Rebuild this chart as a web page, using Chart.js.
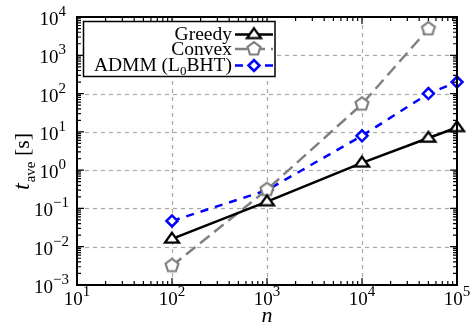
<!DOCTYPE html>
<html>
<head>
<meta charset="utf-8">
<script src="https://cdn.jsdelivr.net/npm/chart.js@4.4.0/dist/chart.umd.min.js"></script>
<style>
  html, body { margin: 0; padding: 0; background: #fff; }
  #wrap { width: 472px; height: 329px; }
</style>
</head>
<body>
<div id="wrap"><canvas id="timeChart" width="472" height="329"></canvas></div>
<script>
// problem size n
var nValues = [1e2, 1e3, 1e4, 5e4, 1e5];
var nConvex = [1e2, 1e3, 1e4, 5e4];
// average run time t_ave [s]
var greedyTimes = [0.016, 0.15, 1.55, 6.9, 13];
var convexTimes = [0.0032, 0.31, 53, 4900];
var admmTimes = [0.047, 0.3, 7.9, 100, 200];
// decade exponents shown on the axes
var xExponents = [1, 2, 3, 4, 5];
var yExponents = [-3, -2, -1, 0, 1, 2, 3, 4];

var SERIF = "'Liberation Serif', 'Times New Roman', serif";

function toPoints(xs, ys) {
    return xs.map(function (x, i) { return { x: x, y: ys[i] }; });
}

// open markers drawn once into small canvases
function makeMarker(size, draw) {
    var c = document.createElement("canvas");
    c.width = size;
    c.height = size;
    var g = c.getContext("2d");
    g.translate(size / 2, size / 2);
    draw(g);
    return c;
}

var triangleMark = makeMarker(22, function (g) {
    g.beginPath();
    g.moveTo(0, -6.2);
    g.lineTo(7, 3.6);
    g.lineTo(-7, 3.6);
    g.closePath();
    g.fillStyle = "#fff";
    g.fill();
    g.lineWidth = 2.3;
    g.lineJoin = "miter";
    g.strokeStyle = "#000";
    g.stroke();
});

var pentagonMark = makeMarker(22, function (g) {
    g.beginPath();
    for (var k = 0; k < 5; k++) {
        var a = -Math.PI / 2 + k * 2 * Math.PI / 5;
        g.lineTo(Math.cos(a) * 6.8, Math.sin(a) * 6.8);
    }
    g.closePath();
    g.fillStyle = "#fff";
    g.fill();
    g.lineWidth = 2.2;
    g.strokeStyle = "#808080";
    g.stroke();
});

function drawPower(ctx, exp, x, baseY, align) {
    var sup = exp < 0 ? "\u2212" + (-exp) : String(exp);
    ctx.font = "19px " + SERIF;
    var wb = ctx.measureText("10").width;
    ctx.font = "15px " + SERIF;
    var ws = ctx.measureText(sup).width;
    var x0 = align === "center" ? x - (wb + ws) / 2 : x - wb;
    ctx.textAlign = "left";
    ctx.textBaseline = "alphabetic";
    ctx.fillStyle = "#000";
    ctx.font = "19px " + SERIF;
    ctx.fillText("10", x0, baseY);
    ctx.font = "15px " + SERIF;
    ctx.fillText(sup, x0 + wb, baseY - 9);
}

var axesPlugin = {
    id: "gnuAxes",
    beforeDatasetsDraw: function (chart) {
        var ctx = chart.ctx, a = chart.chartArea;
        var xs = chart.scales.x, ys = chart.scales.y;
        ctx.save();
        ctx.strokeStyle = "#a8a8a8";
        ctx.lineWidth = 1.2;
        ctx.setLineDash([4, 4]);
        xExponents.forEach(function (e) {
            var px = Math.round(xs.getPixelForValue(Math.pow(10, e))) + 0.5;
            if (px <= a.left + 1 || px >= a.right - 1) return;
            ctx.beginPath();
            ctx.moveTo(px, a.bottom);
            ctx.lineTo(px, a.top);
            ctx.stroke();
        });
        yExponents.forEach(function (e) {
            var py = Math.round(ys.getPixelForValue(Math.pow(10, e))) + 0.5;
            if (py <= a.top + 1 || py >= a.bottom - 1) return;
            ctx.beginPath();
            ctx.moveTo(a.left, py);
            ctx.lineTo(a.right, py);
            ctx.stroke();
        });
        ctx.restore();
    },
    afterDatasetsDraw: function (chart) {
        var ctx = chart.ctx, a = chart.chartArea;
        var xs = chart.scales.x, ys = chart.scales.y;
        ctx.save();
        ctx.setLineDash([]);

        // ticks on all four sides, pointing inward
        ctx.strokeStyle = "#000";
        ctx.lineWidth = 1.2;
        ctx.beginPath();
        xExponents.forEach(function (e) {
            for (var m = 1; m <= 9; m++) {
                var v = m * Math.pow(10, e);
                if (v > xs.max * 1.0001) break;
                var px = xs.getPixelForValue(v);
                var len = m === 1 ? 7 : 4;
                ctx.moveTo(px, a.bottom); ctx.lineTo(px, a.bottom - len);
                ctx.moveTo(px, a.top); ctx.lineTo(px, a.top + len);
            }
        });
        yExponents.forEach(function (e) {
            for (var m = 1; m <= 9; m++) {
                var v = m * Math.pow(10, e);
                if (v > ys.max * 1.0001) break;
                var py = ys.getPixelForValue(v);
                var len = m === 1 ? 7 : 4;
                ctx.moveTo(a.left, py); ctx.lineTo(a.left + len, py);
                ctx.moveTo(a.right, py); ctx.lineTo(a.right - len, py);
            }
        });
        ctx.stroke();

        // frame
        ctx.lineWidth = 2;
        ctx.strokeRect(a.left, a.top, a.right - a.left, a.bottom - a.top);

        // tick labels
        xExponents.forEach(function (e) {
            drawPower(ctx, e, xs.getPixelForValue(Math.pow(10, e)), a.bottom + 20, "center");
        });
        yExponents.forEach(function (e) {
            var py = ys.getPixelForValue(Math.pow(10, e));
            var baseRight = a.left - (e < 0 ? 24 : 18.5);
            drawPower(ctx, e, baseRight, py + 8, "left");
        });

        // axis titles
        ctx.fillStyle = "#000";
        ctx.textAlign = "center";
        ctx.textBaseline = "alphabetic";
        ctx.font = "italic 22px " + SERIF;
        ctx.fillText("n", (a.left + a.right) / 2, 321.5);

        ctx.save();
        ctx.translate(29, 190);
        ctx.rotate(-Math.PI / 2);
        ctx.textAlign = "left";
        ctx.font = "italic 24px " + SERIF;
        ctx.fillText("t", 0, 0);
        var w = ctx.measureText("t").width;
        ctx.font = "15px " + SERIF;
        ctx.fillText("ave", w + 1, 6);
        w += 1 + ctx.measureText("ave").width;
        ctx.font = "22px " + SERIF;
        ctx.fillText(" [s]", w, 0);
        ctx.restore();

        // legend: right-aligned labels with a line sample on the right
        var box = { left: 83.5, top: 21.5, right: 275, bottom: 76.5 };
        ctx.fillStyle = "#fff";
        ctx.fillRect(box.left, box.top, box.right - box.left, box.bottom - box.top);
        ctx.strokeStyle = "#000";
        ctx.lineWidth = 1.5;
        ctx.strokeRect(box.left, box.top, box.right - box.left, box.bottom - box.top);

        var rows = [34.5, 49, 65.5];
        var textRight = 232;
        chart.data.datasets.forEach(function (ds, i) {
            var y = rows[i];
            ctx.save();
            ctx.strokeStyle = ds.borderColor;
            ctx.lineWidth = ds.borderWidth;
            ctx.setLineDash(ds.borderDash || []);
            ctx.beginPath();
            ctx.moveTo(235, y);
            ctx.lineTo(273, y);
            ctx.stroke();
            ctx.setLineDash([]);
            ctx.fillStyle = ds.pointBackgroundColor;
            ctx.strokeStyle = ds.pointBorderColor;
            ctx.lineWidth = ds.pointBorderWidth || 1;
            Chart.helpers.drawPoint(ctx, {
                pointStyle: ds.pointStyle,
                radius: ds.pointRadius,
                borderWidth: ds.pointBorderWidth || 1,
                rotation: 0
            }, 254, y);
            ctx.restore();

            ctx.fillStyle = "#000";
            ctx.textAlign = "right";
            ctx.font = "19.5px " + SERIF;
            var base = y + 5.8;
            if (ds.label.indexOf("_0") < 0) {
                ctx.fillText(ds.label, textRight, base);
            } else {
                var parts = ds.label.split("_0");
                ctx.fillText(parts[1], textRight, base);
                var x = textRight - ctx.measureText(parts[1]).width;
                ctx.font = "13px " + SERIF;
                ctx.fillText("0", x, base + 4);
                x -= ctx.measureText("0").width;
                ctx.font = "19.5px " + SERIF;
                ctx.fillText(parts[0], x, base);
            }
        });
        ctx.restore();
    }
};

var ctx = document.getElementById("timeChart").getContext("2d");
new Chart(ctx, {
    type: "line",
    data: {
        datasets: [{
            label: "Greedy",
            data: toPoints(nValues, greedyTimes),
            borderColor: "#000000",
            borderWidth: 2.5,
            pointStyle: triangleMark,
            pointRadius: 8,
            pointBackgroundColor: "#ffffff",
            pointBorderColor: "#000000",
            pointBorderWidth: 2,
            fill: false,
            tension: 0,
            clip: false
        }, {
            label: "Convex",
            data: toPoints(nConvex, convexTimes),
            borderColor: "#808080",
            borderWidth: 2.5,
            borderDash: [12, 6],
            pointStyle: pentagonMark,
            pointRadius: 8,
            pointBackgroundColor: "#ffffff",
            pointBorderColor: "#808080",
            pointBorderWidth: 2,
            fill: false,
            tension: 0,
            clip: false
        }, {
            label: "ADMM (L_0BHT)",
            data: toPoints(nValues, admmTimes),
            borderColor: "#0000ff",
            borderWidth: 2.5,
            borderDash: [8, 7],
            pointStyle: "rectRot",
            pointRadius: 5.5,
            pointBackgroundColor: "#ffffff",
            pointBorderColor: "#0000ff",
            pointBorderWidth: 2.5,
            fill: false,
            tension: 0,
            clip: false
        }]
    },
    options: {
        responsive: false,
        animation: false,
        layout: {
            padding: { left: 77, top: 17, right: 15, bottom: 44 }
        },
        plugins: {
            legend: { display: false },
            tooltip: { enabled: false }
        },
        scales: {
            x: { type: "logarithmic", min: 10, max: 1e5, display: false },
            y: { type: "logarithmic", min: 1e-3, max: 1e4, display: false }
        }
    },
    plugins: [axesPlugin]
});
</script>
</body>
</html>
